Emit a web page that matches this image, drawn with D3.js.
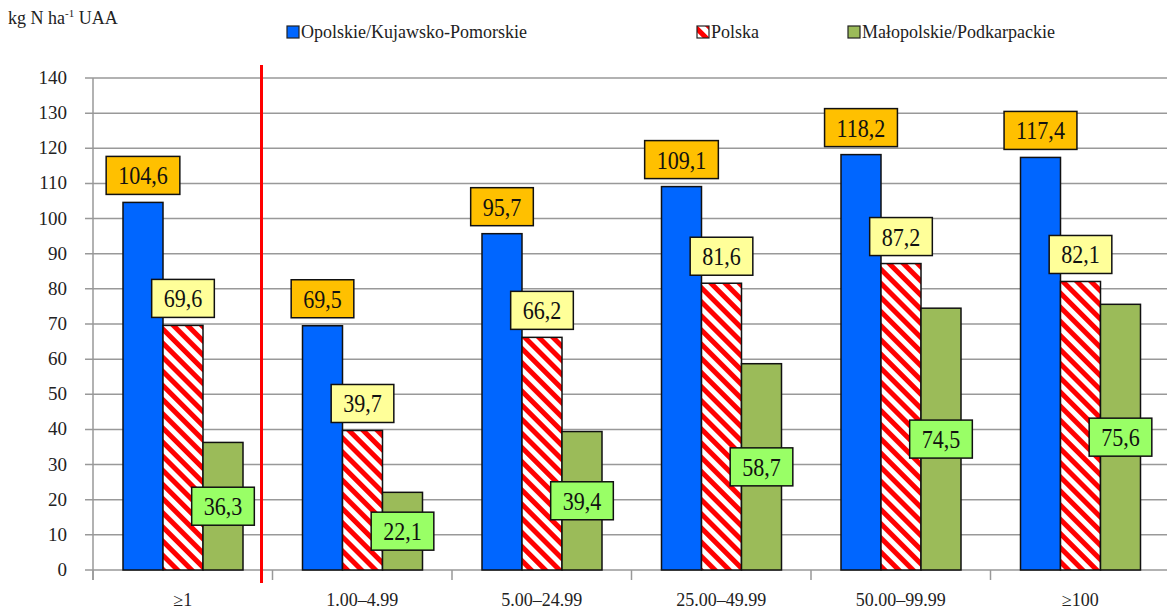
<!DOCTYPE html>
<html>
<head>
<meta charset="utf-8">
<script src="https://cdn.jsdelivr.net/npm/d3@7"></script>
<style>
  body { margin: 0; background: #fff; }
</style>
</head>
<body>
<svg id="chart"></svg>
<script>
// Data
const categories = ["≥1", "1.00–4.99", "5.00–24.99", "25.00–49.99", "50.00–99.99", "≥100"];
const seriesNames = ["Opolskie/Kujawsko-Pomorskie", "Polska", "Małopolskie/Podkarpackie"];
const opolskie = [104.6, 69.5, 95.7, 109.1, 118.2, 117.4];
const polska = [69.6, 39.7, 66.2, 81.6, 87.2, 82.1];
const malopolskie = [36.3, 22.1, 39.4, 58.7, 74.5, 75.6];
const yTicks = [0, 10, 20, 30, 40, 50, 60, 70, 80, 90, 100, 110, 120, 130, 140];

const width = 1167;
const height = 615;
const serif = "Times New Roman, Liberation Serif, DejaVu Serif, serif";

const svg = d3.select("#chart")
  .attr("width", width)
  .attr("height", height)
  .attr("font-family", serif);

// Hatch pattern for Polska
const defs = svg.append("defs");
const hatch = defs.append("pattern")
  .attr("id", "hatch")
  .attr("patternUnits", "userSpaceOnUse")
  .attr("width", 10)
  .attr("height", 10)
  .attr("patternTransform", "rotate(-45)");
hatch.append("rect").attr("width", 10).attr("height", 10).attr("fill", "#fff");
hatch.append("rect").attr("width", 5).attr("height", 10).attr("fill", "#ff0000");

const fills = ["#0066ff", "url(#hatch)", "#9bbb59"];
const labelFills = ["#ffc000", "#ffff99", "#99ff66"];

const x = d3.scaleBand().domain(categories).range([93, 1170]).paddingInner(0).paddingOuter(0);
const xs = d3.scaleBand().domain(seriesNames).range([30, x.bandwidth() - 29.5]);
const y = d3.scaleLinear().domain([0, 140]).range([570, 78]);

// Gridlines
svg.append("g")
  .selectAll("line")
  .data(yTicks)
  .enter()
  .append("line")
  .attr("x1", 85)
  .attr("x2", 1170)
  .attr("y1", d => y(d))
  .attr("y2", d => y(d))
  .attr("stroke", "#999")
  .attr("stroke-width", 1.5);

// Y axis line
svg.append("line")
  .attr("x1", 93).attr("x2", 93)
  .attr("y1", y(140)).attr("y2", 580)
  .attr("stroke", "#999").attr("stroke-width", 1.5);

// Y tick labels
svg.append("g")
  .selectAll("text")
  .data(yTicks)
  .enter()
  .append("text")
  .attr("x", 67)
  .attr("y", d => y(d) + 6)
  .attr("text-anchor", "end")
  .attr("font-size", "19px")
  .attr("fill", "#222")
  .text(d => d);

// X category ticks
svg.append("g")
  .selectAll("line")
  .data(categories)
  .enter()
  .append("line")
  .attr("x1", d => x(d))
  .attr("x2", d => x(d))
  .attr("y1", 570)
  .attr("y2", 580)
  .attr("stroke", "#999")
  .attr("stroke-width", 1.5);

// X labels
svg.append("g")
  .selectAll("text")
  .data(categories)
  .enter()
  .append("text")
  .attr("x", d => x(d) + x.bandwidth() / 2)
  .attr("y", 606)
  .attr("text-anchor", "middle")
  .attr("font-size", "18px")
  .attr("fill", "#222")
  .text(d => d);

// Bars
const series = [opolskie, polska, malopolskie];
const barData = [];
series.forEach((vals, si) => {
  vals.forEach((v, ci) => {
    barData.push({ si, cat: categories[ci], v });
  });
});

svg.append("g")
  .selectAll("rect")
  .data(barData)
  .enter()
  .append("rect")
  .attr("x", d => x(d.cat) + xs(seriesNames[d.si]))
  .attr("y", d => y(d.v))
  .attr("width", xs.bandwidth())
  .attr("height", d => y(0) - y(d.v))
  .attr("fill", d => fills[d.si])
  .attr("stroke", "#111")
  .attr("stroke-width", 1.5);

// Red separator line
svg.append("line")
  .attr("x1", x(categories[1]) - 11)
  .attr("x2", x(categories[1]) - 11)
  .attr("y1", 65)
  .attr("y2", 583)
  .attr("stroke", "#ff0000")
  .attr("stroke-width", 3);

// Data labels
const fmt = v => v.toFixed(1).replace(".", ",");
const labels = svg.append("g");
barData.forEach(d => {
  const cx = x(d.cat) + xs(seriesNames[d.si]) + xs.bandwidth() / 2;
  const boxH = 38;
  const cy = d.si === 2 ? y(d.v / 2) : y(d.v) - 8 - boxH / 2;
  const g = labels.append("g");
  const t = g.append("text")
    .attr("x", cx)
    .attr("y", cy + 9)
    .attr("text-anchor", "middle")
    .attr("font-size", "26px")
    .attr("fill", "#111")
    .attr("transform", `translate(${cx},0) scale(0.85,1) translate(${-cx},0)`)
    .text(fmt(d.v));
  const w = t.node().getComputedTextLength() * 0.85 + 24;
  g.insert("rect", "text")
    .attr("x", cx - w / 2)
    .attr("y", cy - boxH / 2)
    .attr("width", w)
    .attr("height", boxH)
    .attr("fill", labelFills[d.si])
    .attr("stroke", "#111")
    .attr("stroke-width", 1.5);
});

// Legend
const legendX = [287, 697, 848];
const legend = svg.append("g");
seriesNames.forEach((name, i) => {
  legend.append("rect")
    .attr("x", legendX[i])
    .attr("y", 26)
    .attr("width", 12)
    .attr("height", 12)
    .attr("fill", fills[i])
    .attr("stroke", "#222")
    .attr("stroke-width", 1.2);
  legend.append("text")
    .attr("x", legendX[i] + 14)
    .attr("y", 38)
    .attr("font-size", "18px")
    .attr("fill", "#222")
    .text(name);
});

// Unit label
const unit = svg.append("text")
  .attr("x", 8)
  .attr("y", 24)
  .attr("font-size", "18px")
  .attr("fill", "#222");
unit.append("tspan").text("kg N ha");
unit.append("tspan").attr("font-size", "11px").attr("dy", -7).text("-1");
unit.append("tspan").attr("dy", 7).text(" UAA");
</script>
</body>
</html>
